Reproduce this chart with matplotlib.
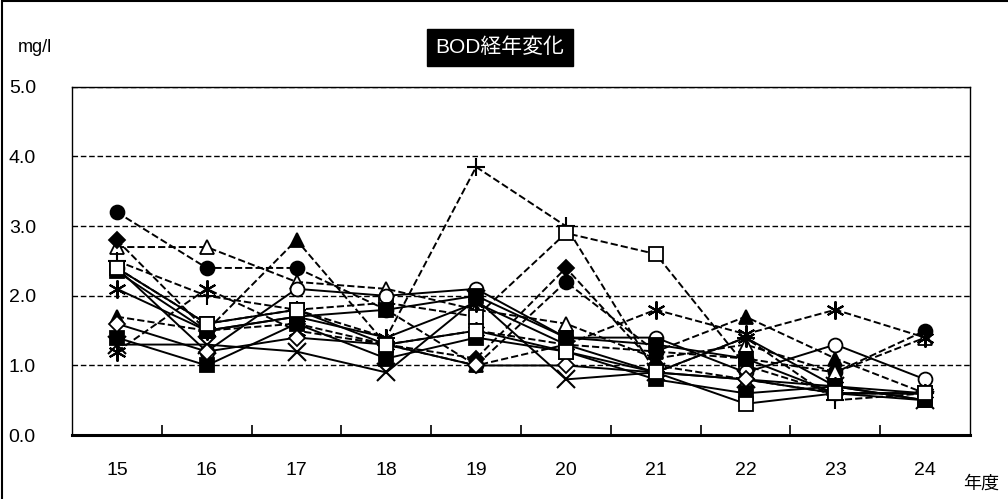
import matplotlib
matplotlib.use("Agg")
import matplotlib.pyplot as plt
from matplotlib.patches import Rectangle
import numpy as np

plt.rcParams["font.family"] = ["Liberation Sans", "Noto Sans CJK JP", "DejaVu Sans"]

years = ["15", "16", "17", "18", "19", "20", "21", "22", "23", "24"]

# dashed series
d_fcircle = [3.2, 2.4, 2.4, 1.8, 1.0, 2.2, 1.2, 1.1, 0.9, 1.5]
d_otri = [2.7, 2.7, 2.2, 2.1, 1.8, 1.6, 1.1, 1.3, 0.9, 1.4]
d_plus = [2.5, 2.0, 1.8, 1.4, 3.85, 3.0, 0.9, 1.4, 0.5, 0.6]
d_osquare = [2.4, 1.6, 1.8, 1.9, 1.7, 2.9, 2.6, 1.0, 0.6, 0.6]
d_star = [1.2, 2.1, 1.5, 1.3, 1.5, 1.3, 1.8, 1.45, 1.8, 1.4]
d_fdiamond = [2.8, 1.5, 1.6, 1.3, 1.1, 2.4, 1.0, 0.8, 0.6, 0.6]
d_ftri = [1.7, 1.5, 2.8, 1.3, 1.0, 1.3, 1.2, 1.7, 1.1, 0.6]

# solid series
s_ocircle = [2.4, 1.2, 2.1, 2.0, 2.1, 1.4, 1.4, 0.9, 1.3, 0.8]
s_fsquare = [1.4, 1.0, 1.6, 1.1, 1.4, 1.2, 0.8, 0.6, 0.7, 0.5]
s_star = [2.1, 1.5, 1.7, 1.4, 1.9, 1.3, 0.9, 1.4, 0.7, 0.6]
s_x = [1.3, 1.3, 1.2, 0.9, 1.95, 0.8, 0.9, 0.8, 0.7, 0.5]
s_odiamond = [1.6, 1.2, 1.4, 1.3, 1.0, 1.0, 0.9, 0.8, 0.6, 0.6]
s_fsquare2 = [2.35, 1.5, 1.7, 1.8, 2.0, 1.4, 1.3, 1.1, 0.6, 0.5]
s_osquare = [2.4, 1.6, 1.8, 1.3, 1.5, 1.2, 0.9, 0.45, 0.6, 0.6]

yticks = [0.0, 1.0, 2.0, 3.0, 4.0, 5.0]

ASTERISK = (6, 2, 0)

series = [
    (d_fcircle, "o", True, "--"),
    (d_otri, "^", False, "--"),
    (d_plus, "+", True, "--"),
    (d_osquare, "s", False, "--"),
    (d_star, ASTERISK, True, "--"),
    (d_fdiamond, "D", True, "--"),
    (d_ftri, "^", True, "--"),
    (s_ocircle, "o", False, "-"),
    (s_fsquare, "s", True, "-"),
    (s_star, ASTERISK, True, "-"),
    (s_x, "x", True, "-"),
    (s_odiamond, "D", False, "-"),
    (s_fsquare2, "s", True, "-"),
    (s_osquare, "s", False, "-"),
]

fig = plt.figure(figsize=(10.08, 4.99), dpi=100)
ax = fig.add_axes([0.0714, 0.128, 0.891, 0.698])
x = np.arange(len(years))

for vals, mk, filled, ls in series:
    size = 10
    edge = 1.3
    if mk == "D":
        size = 8
    if mk in ("+", "x"):
        size = 13
        edge = 1.5
    if mk == ASTERISK:
        size = 13
        edge = 1.5
    ax.plot(x, vals, linestyle=ls, color="black", linewidth=1.4,
            marker=mk, markersize=size, markeredgewidth=edge,
            markerfacecolor="black" if filled else "white",
            markeredgecolor="black", zorder=3)

for v in yticks[1:]:
    ax.axhline(v, color="black", linestyle=(0, (4, 2)), linewidth=1.0, zorder=1)

ax.set_xlim(-0.5, len(years) - 0.5)
ax.set_ylim(0, 5.0)
ax.set_yticks(yticks)
ax.set_yticklabels([f"{v:.1f}" for v in yticks], fontsize=14)
ax.tick_params(axis="y", length=0, pad=26)
ax.set_xticks(x)
ax.set_xticklabels(years, fontsize=14)
ax.tick_params(axis="x", length=0, pad=19)
ax.set_xticks(np.arange(0.5, len(years) - 0.5, 1), minor=True)
ax.tick_params(axis="x", which="minor", direction="in", length=7, width=1.2)

for side in ["top", "right", "left"]:
    ax.spines[side].set_linewidth(1.0)
ax.spines["bottom"].set_linewidth(2.2)

fig.text(0.018, 0.905, "mg/l", fontsize=13, va="center", ha="left")
fig.text(0.496, 0.905, "BOD経年変化", fontsize=15, color="white", va="center", ha="center",
         bbox=dict(boxstyle="square,pad=0.4", facecolor="black", edgecolor="black"))
fig.text(0.955, 0.03, "年度", fontsize=13, va="center", ha="left")

fig.patches.append(Rectangle((0.002, -0.01), 1.2, 1.007, transform=fig.transFigure,
                             fill=False, edgecolor="black", linewidth=1.5))

fig.savefig("out.png", dpi=100)
